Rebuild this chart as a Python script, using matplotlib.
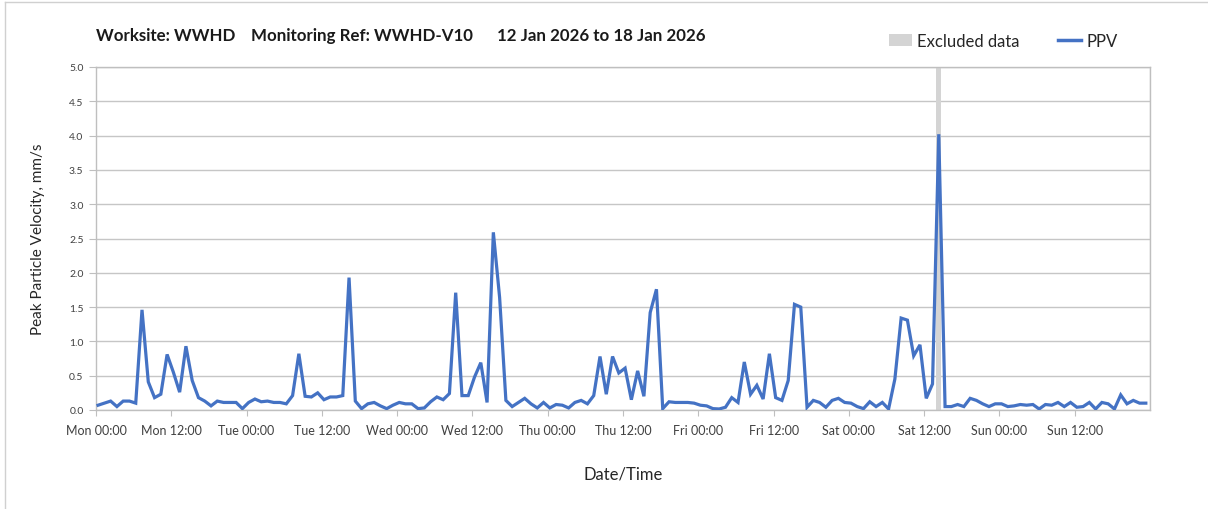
import numpy as np
import pandas as pd
import matplotlib
matplotlib.use("Agg")
import matplotlib.pyplot as plt
import matplotlib.dates as mdates
from matplotlib.lines import Line2D
from matplotlib.patches import Patch

# hourly readings, first one at 00:20 on Mon 12 Jan 2026
times = pd.date_range("2026-01-12 00:20", periods=168, freq="h")

ppv = [
    0.07, 0.10, 0.13, 0.05, 0.13, 0.13, 0.10, 1.46, 0.41, 0.18,
    0.23, 0.81, 0.55, 0.26, 0.93, 0.43, 0.18, 0.13, 0.06, 0.13,
    0.11, 0.11, 0.11, 0.02, 0.11, 0.16, 0.12, 0.13, 0.11, 0.11,
    0.09, 0.21, 0.82, 0.20, 0.19, 0.25, 0.15, 0.19, 0.19, 0.21,
    1.93, 0.13, 0.02, 0.09, 0.11, 0.06, 0.02, 0.07, 0.11, 0.09,
    0.09, 0.02, 0.03, 0.12, 0.19, 0.15, 0.24, 1.71, 0.21, 0.21,
    0.48, 0.69, 0.11, 2.59, 1.64, 0.14, 0.05, 0.11, 0.17, 0.09,
    0.03, 0.11, 0.03, 0.08, 0.07, 0.03, 0.11, 0.14, 0.09, 0.21,
    0.78, 0.23, 0.78, 0.54, 0.61, 0.15, 0.57, 0.20, 1.42, 1.76,
    0.02, 0.12, 0.11, 0.11, 0.11, 0.10, 0.07, 0.06, 0.02, 0.015,
    0.04, 0.18, 0.11, 0.70, 0.23, 0.36, 0.16, 0.82, 0.18, 0.14,
    0.43, 1.54, 1.50, 0.04, 0.14, 0.11, 0.04, 0.14, 0.17, 0.11,
    0.10, 0.05, 0.02, 0.12, 0.05, 0.11, 0.015, 0.45, 1.34, 1.31,
    0.79, 0.95, 0.17, 0.38, 4.02, 0.05, 0.05, 0.08, 0.05, 0.17,
    0.14, 0.09, 0.05, 0.09, 0.09, 0.05, 0.06, 0.08, 0.07, 0.08,
    0.015, 0.08, 0.07, 0.11, 0.05, 0.11, 0.04, 0.05, 0.11, 0.015,
    0.11, 0.09, 0.015, 0.22, 0.09, 0.14, 0.10, 0.10,
]

# excluded reading (Sat afternoon spike)
excl_start = pd.Timestamp("2026-01-17 13:55")
excl_end = pd.Timestamp("2026-01-17 14:45")

title_parts = ["Worksite: WWHD", "Monitoring Ref: WWHD-V10", "12 Jan 2026 to 18 Jan 2026"]

plt.rcParams["font.family"] = ["Lato", "DejaVu Sans"]

fig = plt.figure(figsize=(12.08, 5.10), dpi=100)
ax = fig.add_axes([96 / 1208, 99 / 510, 1054 / 1208, 343 / 510])

ax.axvspan(excl_start, excl_end, color="#d4d4d4", lw=0, zorder=1)
ax.plot(times, ppv, color="#4472C4", lw=2.3, zorder=3, solid_joinstyle="miter")

ax.set_xlim(pd.Timestamp("2026-01-12"), pd.Timestamp("2026-01-19"))
ax.set_ylim(0, 5)
ax.set_yticks(np.arange(0, 5.01, 0.5))
ax.yaxis.set_major_formatter(plt.FormatStrFormatter("%.1f"))

ax.xaxis.set_major_locator(mdates.HourLocator(byhour=[0, 12]))
ax.xaxis.set_major_formatter(mdates.DateFormatter("%a %H:%M"))
ax.xaxis.set_minor_locator(mdates.DayLocator())

ax.grid(axis="y", color="#c6c6c6", lw=1.0, zorder=0)
ax.grid(axis="x", which="minor", color="#dddddd", lw=1.0, zorder=0)
ax.set_axisbelow(True)

for s in ax.spines.values():
    s.set_color("#bfbfbf")
    s.set_linewidth(1.0)

ax.tick_params(axis="x", which="major", length=4, color="#bfbfbf", labelsize=9,
               labelcolor="#404040", pad=6)
ax.tick_params(axis="x", which="minor", length=0)
ax.tick_params(axis="y", length=5, color="#bfbfbf", labelsize=7.5,
               labelcolor="#404040", pad=4)
# drop the label at the right-hand end of the axis
ax.set_xticks(ax.get_xticks()[:-1])

ax.set_ylabel("Peak Particle Velocity, mm/s", fontsize=11, color="#262626", labelpad=17)
ax.set_xlabel("Date/Time", fontsize=12, color="#262626", labelpad=21)

# title pieces
for xpix, txt in zip([96, 251, 497], title_parts):
    fig.text(xpix / 1208, 1 - 36 / 510, txt, fontsize=12.2, fontweight="bold",
             color="#1a1a1a", ha="left", va="center")

handles = [Patch(facecolor="#d4d4d4", edgecolor="none", label="Excluded data"),
           Line2D([], [], color="#4472C4", lw=2.5, label="PPV")]
fig.legend(handles=handles, loc="center", bbox_to_anchor=(1003 / 1208, 1 - 42 / 510),
           ncol=2, frameon=False, fontsize=12, handlelength=1.4, handletextpad=0.3,
           columnspacing=2.3, labelcolor="#262626")

# thin frame round the chart (top and left edges)
fig.add_artist(Line2D([5 / 1208, 5 / 1208], [0, 1 - 3 / 510], color="#d0d0d0", lw=1,
                      transform=fig.transFigure))
fig.add_artist(Line2D([5 / 1208, 1], [1 - 3 / 510, 1 - 3 / 510], color="#d0d0d0", lw=1,
                      transform=fig.transFigure))

fig.savefig("out.png", dpi=100)
